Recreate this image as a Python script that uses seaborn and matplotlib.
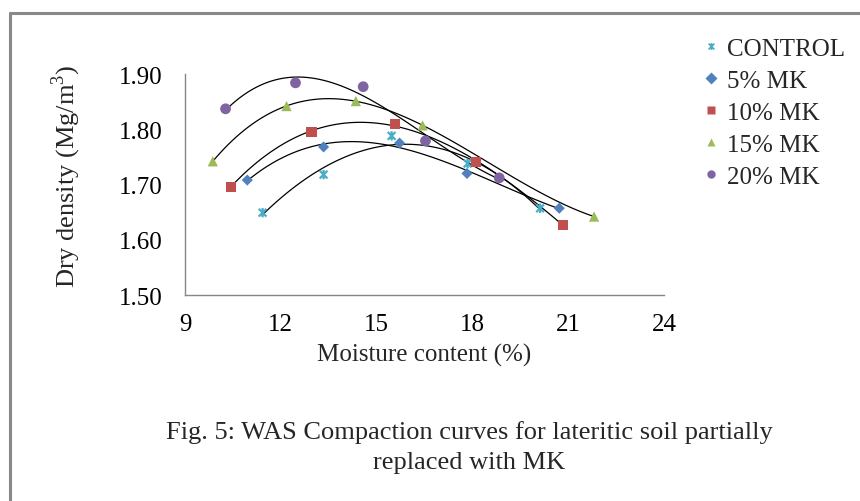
import matplotlib
matplotlib.use("Agg")
import matplotlib.pyplot as plt
from matplotlib.lines import Line2D
from matplotlib.path import Path
import numpy as np
import pandas as pd
import seaborn as sns

# Compaction test results: moisture content (%) and dry density (Mg/m3)
series_names = ["CONTROL", "5% MK", "10% MK", "15% MK", "20% MK"]

control_mc = [11.43, 13.34, 15.47, 17.85, 20.12]
control_dd = [1.649, 1.718, 1.788, 1.738, 1.657]

mk5_mc = [10.95, 13.34, 15.72, 17.83, 20.72]
mk5_dd = [1.708, 1.768, 1.775, 1.720, 1.657]

mk10_mc = [10.43, 12.96, 15.58, 18.12, 20.83]
mk10_dd = [1.696, 1.795, 1.809, 1.741, 1.627]

mk15_mc = [9.87, 12.18, 14.35, 16.44, 21.81]
mk15_dd = [1.742, 1.842, 1.851, 1.807, 1.642]

mk20_mc = [10.27, 12.46, 14.58, 16.53, 18.84]
mk20_dd = [1.837, 1.884, 1.877, 1.779, 1.712]

x_ticks = [9, 12, 15, 18, 21, 24]
y_ticks = [1.50, 1.60, 1.70, 1.80, 1.90]

frames = []
for name, mc, dd in zip(series_names,
                        [control_mc, mk5_mc, mk10_mc, mk15_mc, mk20_mc],
                        [control_dd, mk5_dd, mk10_dd, mk15_dd, mk20_dd]):
    frames.append(pd.DataFrame({"mc": mc, "dd": dd, "mix": name}))
df = pd.concat(frames, ignore_index=True)

# asterisk-style marker: an X crossed by a vertical stroke
star = Path([(-1, -1), (1, 1), (-1, 1), (1, -1), (0, -1.2), (0, 1.2)],
            [Path.MOVETO, Path.LINETO, Path.MOVETO, Path.LINETO,
             Path.MOVETO, Path.LINETO])

colors = {"CONTROL": "#4BACC6", "5% MK": "#4F81BD", "10% MK": "#C0504D",
          "15% MK": "#9BBB59", "20% MK": "#8064A2"}
markers = {"CONTROL": star, "5% MK": "D", "10% MK": "s",
           "15% MK": "^", "20% MK": "o"}
sizes = {"CONTROL": 45, "5% MK": 32, "10% MK": 55, "15% MK": 55, "20% MK": 60}

sns.set_theme(style="white")
plt.rcParams["font.family"] = ["Liberation Serif", "DejaVu Serif"]
plt.rcParams["mathtext.fontset"] = "custom"
plt.rcParams["mathtext.rm"] = "Liberation Serif"

fig = plt.figure(figsize=(8.6, 5.02), dpi=100)
fig.patch.set_facecolor("white")
ax = fig.add_axes([185 / 860, 1 - 296 / 502, (664 - 185) / 860, (296 - 75) / 502])

for name in series_names:
    sub = df[df["mix"] == name]
    # third-order polynomial trend line for each mix
    sns.regplot(data=sub, x="mc", y="dd", order=3, ci=None, scatter=False,
                truncate=True, ax=ax,
                line_kws={"color": "black", "linewidth": 0.9, "zorder": 2})
for name in series_names:
    sub = df[df["mix"] == name]
    if name == "CONTROL":
        ax.scatter(sub["mc"], sub["dd"], marker=star, s=sizes[name],
                   facecolors="none", edgecolors=colors[name],
                   linewidths=1.6, zorder=3)
    else:
        sns.scatterplot(data=sub, x="mc", y="dd", marker=markers[name],
                        s=sizes[name], color=colors[name], edgecolor="none",
                        ax=ax, zorder=3, legend=False)

ax.set_xlim(9, 24)
ax.set_ylim(1.50, 1.90)
ax.set_xticks(x_ticks)
ax.set_yticks(y_ticks)
ax.set_xticklabels([str(t) for t in x_ticks])
ax.set_yticklabels([f"{t:.2f}" for t in y_ticks])
ax.tick_params(axis="both", length=0, labelsize=18, colors="black")
ax.tick_params(axis="y", pad=16)
ax.tick_params(axis="x", pad=13)
for side in ["top", "right"]:
    ax.spines[side].set_visible(False)
for side in ["left", "bottom"]:
    ax.spines[side].set_color("#868686")
    ax.spines[side].set_linewidth(1.0)
ax.grid(False)
ax.set_xlabel("Moisture content (%)", fontsize=18, labelpad=6)
ax.set_ylabel("Dry density (Mg/m$^{3}$)", fontsize=19)
ax.yaxis.set_label_coords(-0.212, 0.54)

handles = []
for name in series_names:
    if name == "CONTROL":
        h = Line2D([], [], linestyle="none", marker=star, markersize=5,
                   markerfacecolor="none", markeredgecolor=colors[name],
                   markeredgewidth=1.2)
    else:
        h = Line2D([], [], linestyle="none", marker=markers[name],
                   markersize=6, markerfacecolor=colors[name],
                   markeredgecolor="none")
    handles.append(h)
fig.legend(handles, series_names, loc="upper left",
           bbox_to_anchor=(693 / 860, 1 - 28 / 502), frameon=False,
           fontsize=18, handlelength=0.6, handletextpad=0.35,
           labelspacing=0.38, borderaxespad=0)

fig.text(469 / 860, 1 - 433 / 502,
         "Fig. 5: WAS Compaction curves for lateritic soil partially",
         ha="center", va="center", fontsize=19)
fig.text(469 / 860, 1 - 463 / 502, "replaced with MK",
         ha="center", va="center", fontsize=19)

# outer border of the figure panel
fig.add_artist(Line2D([9.5 / 860, 9.5 / 860], [0, 1 - 13.5 / 502],
                      transform=fig.transFigure, color="#898989", linewidth=2.2))
fig.add_artist(Line2D([9.5 / 860, 1], [1 - 13.5 / 502, 1 - 13.5 / 502],
                      transform=fig.transFigure, color="#898989", linewidth=2.2))

fig.savefig("out.png", dpi=100)
